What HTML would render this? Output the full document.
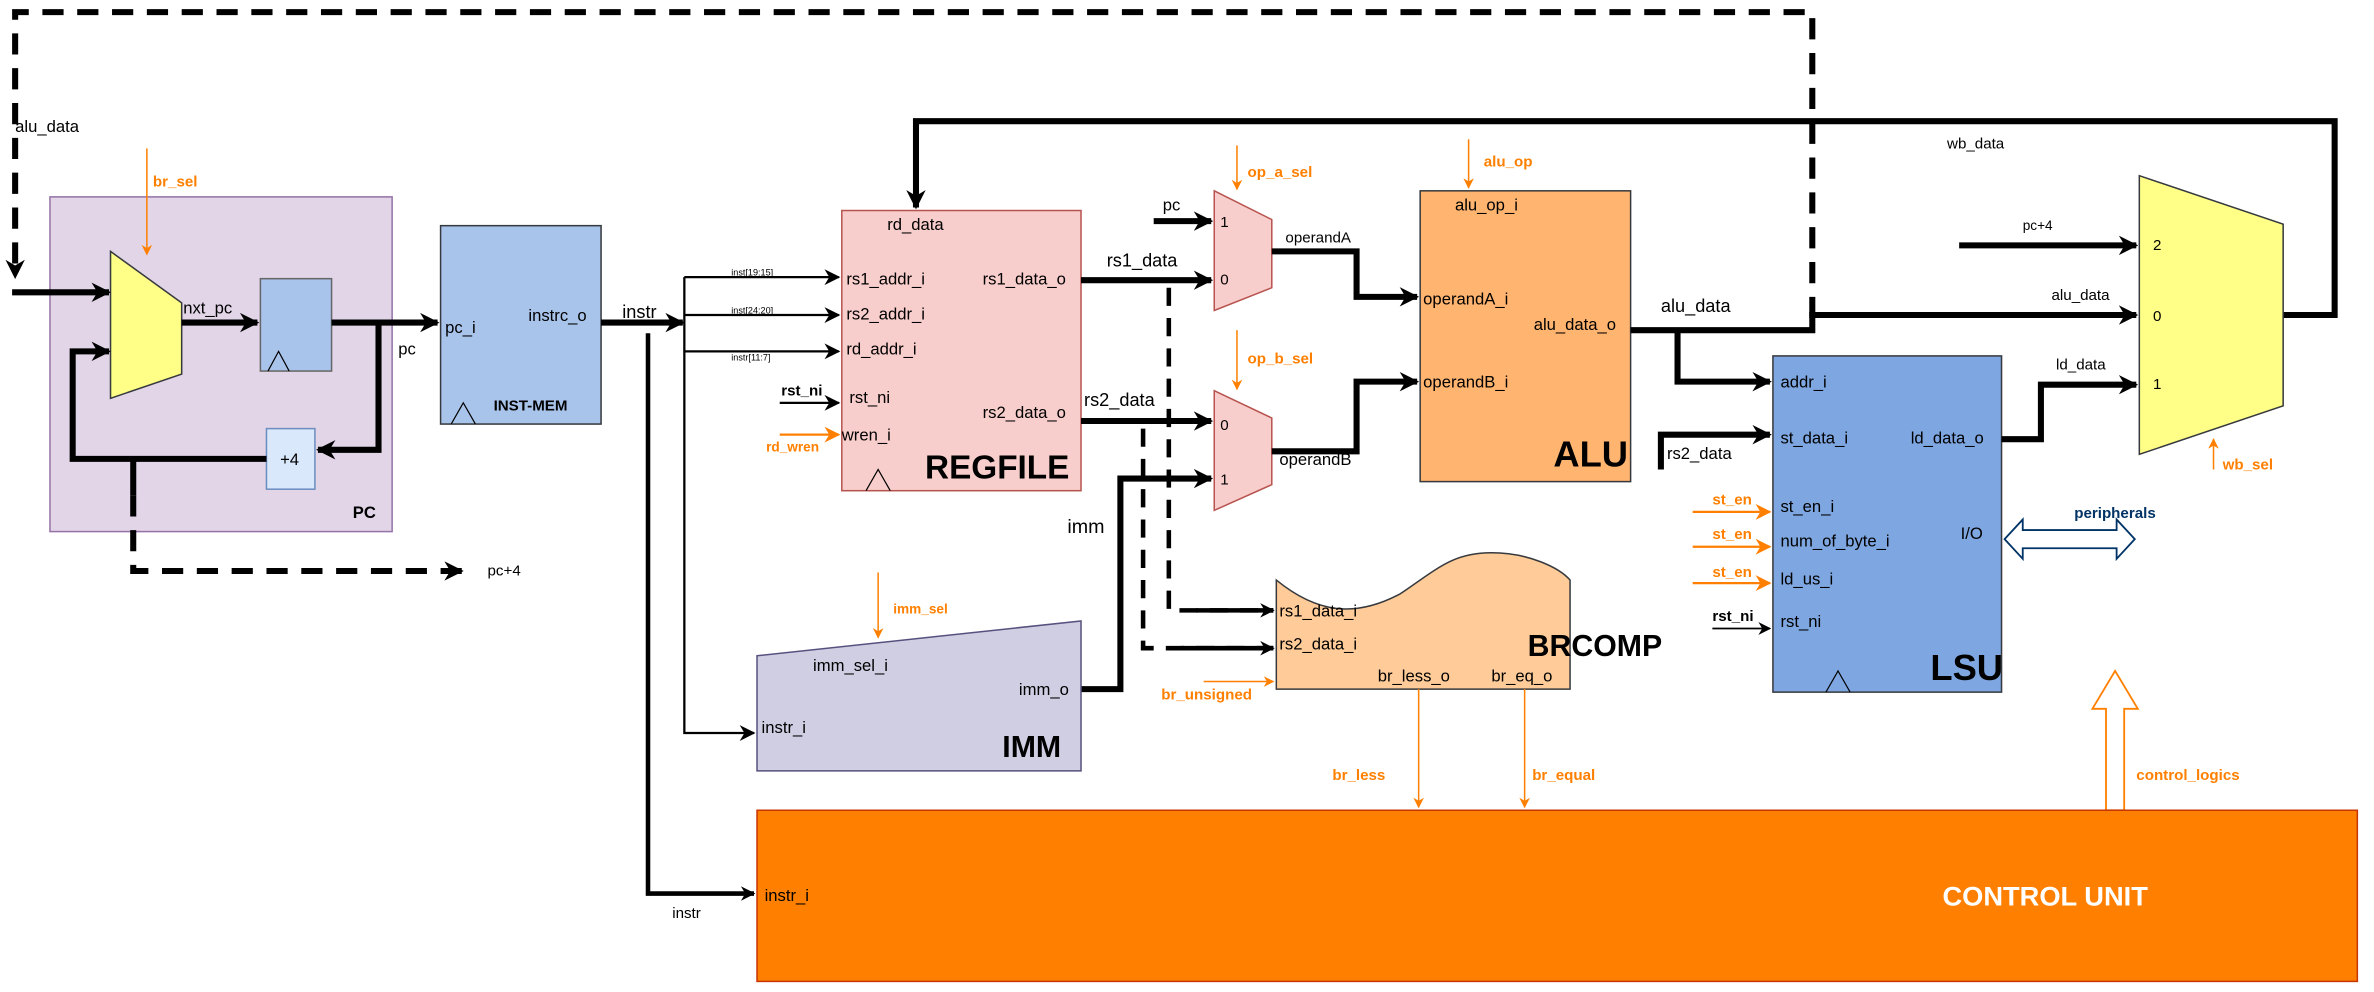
<!DOCTYPE html>
<html><head><meta charset="utf-8"><style>
html,body{margin:0;padding:0;background:#fff;}
svg{display:block;}
text{font-family:"Liberation Sans",Arial,sans-serif;font-size:11px;fill:#000;}
.b{font-weight:bold;}
.o{fill:#ff8000;font-weight:bold;font-size:10px;}
.s{font-size:6px;}
.big{font-weight:bold;font-size:22px;}
</style></head><body>
<svg width="2374" height="992" viewBox="0 0 1568 655" preserveAspectRatio="none" xmlns="http://www.w3.org/2000/svg">
<defs>
<marker id="ab" viewBox="0 0 10 10" refX="9" refY="5" markerWidth="3.2" markerHeight="3.2" orient="auto" markerUnits="strokeWidth"><path d="M0,0 L10,5 L0,10 L3,5 z" fill="#000"/></marker>
<marker id="abt" viewBox="0 0 10 10" refX="9" refY="5" markerWidth="7" markerHeight="7" orient="auto" markerUnits="strokeWidth"><path d="M0,0 L10,5 L0,10 L3,5 z" fill="#000"/></marker>
<marker id="ao" viewBox="0 0 10 10" refX="9" refY="5" markerWidth="7" markerHeight="7" orient="auto" markerUnits="strokeWidth"><path d="M0,0 L10,5 L0,10 L3,5 z" fill="#ff8000"/></marker>
</defs>
<g fill="none" stroke="#000">
<!-- dashed top loop -->
<path d="M1197,210 V8 H10 V183" stroke-width="4" stroke-dasharray="14,9" marker-end="url(#ab)"/>
<!-- PC box -->
<rect x="33" y="130" width="226" height="221" fill="#e1d5e7" stroke="#9673a6"/>
</g>
<text x="10" y="87">alu_data</text>
<text x="233" y="342" class="b">PC</text>
<g fill="none" stroke="#000">
<polygon points="73,166 120,200 120,247 73,263" fill="#ffff88" stroke="#36393d"/>
<rect x="172" y="184" width="47" height="61" fill="#a9c4eb" stroke="#666"/>
<path d="M177,245 L184,232 L191,245" stroke-width="0.8"/>
<rect x="176" y="283" width="32" height="40" fill="#dae8fc" stroke="#6c8ebf"/>
<path d="M8,193 H72" stroke-width="4" marker-end="url(#ab)"/>
<path d="M120,213 H170" stroke-width="4" marker-end="url(#ab)"/>
<path d="M219,213 H289" stroke-width="4" marker-end="url(#ab)"/>
<path d="M250,213 V297 H210" stroke-width="4" marker-end="url(#ab)"/>
<path d="M176,303 H48 V232 H72" stroke-width="4" marker-end="url(#ab)"/>
<path d="M88,303 V327" stroke-width="4"/>
<path d="M88,327 V377 H305" stroke-width="4" stroke-dasharray="14,9" marker-end="url(#ab)"/>
<path d="M97,98 V168" stroke="#ff8000" stroke-width="1" marker-end="url(#ao)"/>
<!-- INST MEM -->
<rect x="291" y="149" width="106" height="131" fill="#a9c4eb" stroke="#36393d"/>
<path d="M298,280 L306,266 L314,280" stroke-width="0.8"/>
<path d="M397,213 H451" stroke-width="4" marker-end="url(#ab)"/>
<path d="M452,183 V484 H498" stroke-width="1.5" marker-end="url(#abt)"/>
<path d="M452,183 H554" stroke-width="1.5" marker-end="url(#abt)"/>
<path d="M452,208 H554" stroke-width="1.5" marker-end="url(#abt)"/>
<path d="M452,232 H554" stroke-width="1.5" marker-end="url(#abt)"/>
<path d="M428,220 V590 H498" stroke-width="3" marker-end="url(#ab)"/>
<path d="M515,266 H554" stroke-width="1.5" marker-end="url(#abt)"/>
<path d="M515,287 H554" stroke="#ff8000" stroke-width="1.5" marker-end="url(#ao)"/>
<!-- REGFILE -->
<rect x="556" y="139" width="158" height="185" fill="#f8cecc" stroke="#b85450"/>
<path d="M572,324 L580,310 L588,324" stroke-width="0.8"/>
<!-- wb loop -->
<path d="M1508,208 H1542 V80 H605 V137" stroke-width="4" marker-end="url(#ab)"/>
<path d="M714,185 H800" stroke-width="4" marker-end="url(#ab)"/>
<path d="M714,278 H800" stroke-width="4" marker-end="url(#ab)"/>
<path d="M772,190 V403 H841" stroke-width="3" stroke-dasharray="12,8"/>
<path d="M790,403 H841" stroke-width="3" marker-end="url(#ab)"/>
<path d="M755,283 V428 H841" stroke-width="3" stroke-dasharray="12,8"/>
<path d="M780,428 H841" stroke-width="3" marker-end="url(#ab)"/>
<path d="M762,146 H800" stroke-width="4" marker-end="url(#ab)"/>
<polygon points="802,126 840,145 840,190 802,205" fill="#f8cecc" stroke="#b85450"/>
<polygon points="802,258 840,276 840,320 802,337" fill="#f8cecc" stroke="#b85450"/>
<path d="M817,96 V125" stroke="#ff8000" marker-end="url(#ao)"/>
<path d="M817,218 V257" stroke="#ff8000" marker-end="url(#ao)"/>
<path d="M840,166 H896 V196 H936" stroke-width="4" marker-end="url(#ab)"/>
<path d="M840,298 H896 V252 H936" stroke-width="4" marker-end="url(#ab)"/>
<path d="M714,455 H740 V316 H800" stroke-width="4" marker-end="url(#ab)"/>
<!-- ALU -->
<rect x="938" y="126" width="139" height="192" fill="#ffb570" stroke="#36393d"/>
<path d="M970,92 V124" stroke="#ff8000" marker-end="url(#ao)"/>
<path d="M1077,218 H1197 V208 H1411" stroke-width="4" marker-end="url(#ab)"/>
<path d="M1108,218 V252 H1169" stroke-width="4" marker-end="url(#ab)"/>
<path d="M1097,310 V287 H1169" stroke-width="4" marker-end="url(#ab)"/>
<!-- LSU -->
<rect x="1171" y="235" width="151" height="222" fill="#7ea6e0" stroke="#36393d"/>
<path d="M1206,457 L1214,443 L1222,457" stroke-width="0.8"/>
<path d="M1118,338 H1169" stroke="#ff8000" stroke-width="1.5" marker-end="url(#ao)"/>
<path d="M1118,361 H1169" stroke="#ff8000" stroke-width="1.5" marker-end="url(#ao)"/>
<path d="M1118,385 H1169" stroke="#ff8000" stroke-width="1.5" marker-end="url(#ao)"/>
<path d="M1131,415 H1169" stroke-width="1.2" marker-end="url(#abt)"/>
<path d="M1322,290 H1348 V254 H1411" stroke-width="4" marker-end="url(#ab)"/>
<path d="M1294,162 H1411" stroke-width="4" marker-end="url(#ab)"/>
<polygon points="1413,116 1508,148 1508,268 1413,300" fill="#ffff88" stroke="#36393d"/>
<path d="M1462,310 V290" stroke="#ff8000" marker-end="url(#ao)"/>
<!-- peripherals -->
<polygon points="1324,356 1336,343 1336,350 1398,350 1398,343 1410,356 1398,369 1398,362 1336,362 1336,369" fill="#fff" stroke="#003366" stroke-width="1.2"/>
<!-- control logics -->
<polygon points="1391,535 1391,468 1382,468 1397,443 1412,468 1403,468 1403,535" fill="#fff" stroke="#ff8000" stroke-width="1.2"/>
<!-- BRCOMP -->
<path d="M843,383 C870,405 895,408 925,392 C950,375 960,365 985,365 C1010,365 1030,375 1037,383 V455 H843 Z" fill="#ffcc99" stroke="#36393d"/>
<path d="M795,450 H841" stroke="#ff8000" marker-end="url(#ao)"/>
<path d="M937,455 V533" stroke="#ff8000" marker-end="url(#ao)"/>
<path d="M1007,455 V533" stroke="#ff8000" marker-end="url(#ao)"/>
<!-- IMM -->
<polygon points="500,433 714,410 714,509 500,509" fill="#d0cee2" stroke="#56517e"/>
<path d="M580,378 V421" stroke="#ff8000" marker-end="url(#ao)"/>
<!-- CONTROL -->
<rect x="500" y="535" width="1057" height="113" fill="#ff8000" stroke="#c73500"/>
</g>
<!-- texts -->
<text x="101" y="123" class="o">br_sel</text>
<text x="121" y="207">nxt_pc</text>
<text x="263" y="234">pc</text>
<text x="185" y="307">+4</text>
<text x="322" y="380" style="font-size:10px">pc+4</text>
<text x="294" y="220">pc_i</text>
<text x="349" y="212">instrc_o</text>
<text x="326" y="271" class="b" style="font-size:10px">INST-MEM</text>
<text x="411" y="210" style="font-size:12px">instr</text>
<text x="483" y="182" class="s">inst[19:15]</text>
<text x="483" y="207" class="s">inst[24:20]</text>
<text x="483" y="238" class="s">instr[11:7]</text>
<text x="516" y="261" class="b" style="font-size:10px">rst_ni</text>
<text x="506" y="298" class="o" style="font-size:9px">rd_wren</text>
<text x="586" y="152">rd_data</text>
<text x="559" y="188">rs1_addr_i</text>
<text x="559" y="211">rs2_addr_i</text>
<text x="559" y="234">rd_addr_i</text>
<text x="561" y="266">rst_ni</text>
<text x="556" y="291">wren_i</text>
<text x="649" y="188">rs1_data_o</text>
<text x="649" y="276">rs2_data_o</text>
<text x="611" y="316" class="big">REGFILE</text>
<text x="1286" y="98" style="font-size:10px">wb_data</text>
<text x="731" y="176" style="font-size:12px">rs1_data</text>
<text x="716" y="268" style="font-size:12px">rs2_data</text>
<text x="768" y="139">pc</text>
<text x="806" y="150" style="font-size:10px">1</text>
<text x="806" y="188" style="font-size:10px">0</text>
<text x="806" y="284" style="font-size:10px">0</text>
<text x="806" y="320" style="font-size:10px">1</text>
<text x="824" y="117" class="o">op_a_sel</text>
<text x="824" y="240" class="o">op_b_sel</text>
<text x="849" y="160" style="font-size:10px">operandA</text>
<text x="845" y="307">operandB</text>
<text x="705" y="352" style="font-size:13px">imm</text>
<text x="961" y="139">alu_op_i</text>
<text x="940" y="201">operandA_i</text>
<text x="940" y="256">operandB_i</text>
<text x="1013" y="218">alu_data_o</text>
<text x="1026" y="308" class="big" style="font-size:24px">ALU</text>
<text x="980" y="110" class="o">alu_op</text>
<text x="1097" y="206" style="font-size:12px">alu_data</text>
<text x="1101" y="303">rs2_data</text>
<text x="1176" y="256">addr_i</text>
<text x="1176" y="293">st_data_i</text>
<text x="1262" y="293">ld_data_o</text>
<text x="1176" y="338">st_en_i</text>
<text x="1176" y="361">num_of_byte_i</text>
<text x="1176" y="386">ld_us_i</text>
<text x="1176" y="414">rst_ni</text>
<text x="1295" y="356">I/O</text>
<text x="1275" y="449" class="big" style="font-size:24px">LSU</text>
<text x="1131" y="333" class="o">st_en</text>
<text x="1131" y="356" class="o">st_en</text>
<text x="1131" y="381" class="o">st_en</text>
<text x="1131" y="410" class="b" style="font-size:10px">rst_ni</text>
<text x="1336" y="152" style="font-size:9px">pc+4</text>
<text x="1355" y="198" style="font-size:10px">alu_data</text>
<text x="1358" y="244" style="font-size:10px">ld_data</text>
<text x="1422" y="165" style="font-size:10px">2</text>
<text x="1422" y="212" style="font-size:10px">0</text>
<text x="1422" y="257" style="font-size:10px">1</text>
<text x="1468" y="310" class="o">wb_sel</text>
<text x="1370" y="342" class="b" style="font-size:10px;fill:#003366">peripherals</text>
<text x="1411" y="515" class="o">control_logics</text>
<text x="845" y="407">rs1_data_i</text>
<text x="845" y="429">rs2_data_i</text>
<text x="910" y="450">br_less_o</text>
<text x="985" y="450">br_eq_o</text>
<text x="1009" y="433" class="big" style="font-size:20px">BRCOMP</text>
<text x="767" y="462" class="o">br_unsigned</text>
<text x="880" y="515" class="o">br_less</text>
<text x="1012" y="515" class="o">br_equal</text>
<text x="537" y="443">imm_sel_i</text>
<text x="503" y="484">instr_i</text>
<text x="673" y="459">imm_o</text>
<text x="662" y="500" class="big" style="font-size:20px">IMM</text>
<text x="590" y="405" class="o" style="font-size:9px">imm_sel</text>
<text x="505" y="595">instr_i</text>
<text x="444" y="606" style="font-size:10px">instr</text>
<text x="1283" y="598" class="b" style="font-size:18px;fill:#fff">CONTROL UNIT</text>
</svg>
</body></html>
